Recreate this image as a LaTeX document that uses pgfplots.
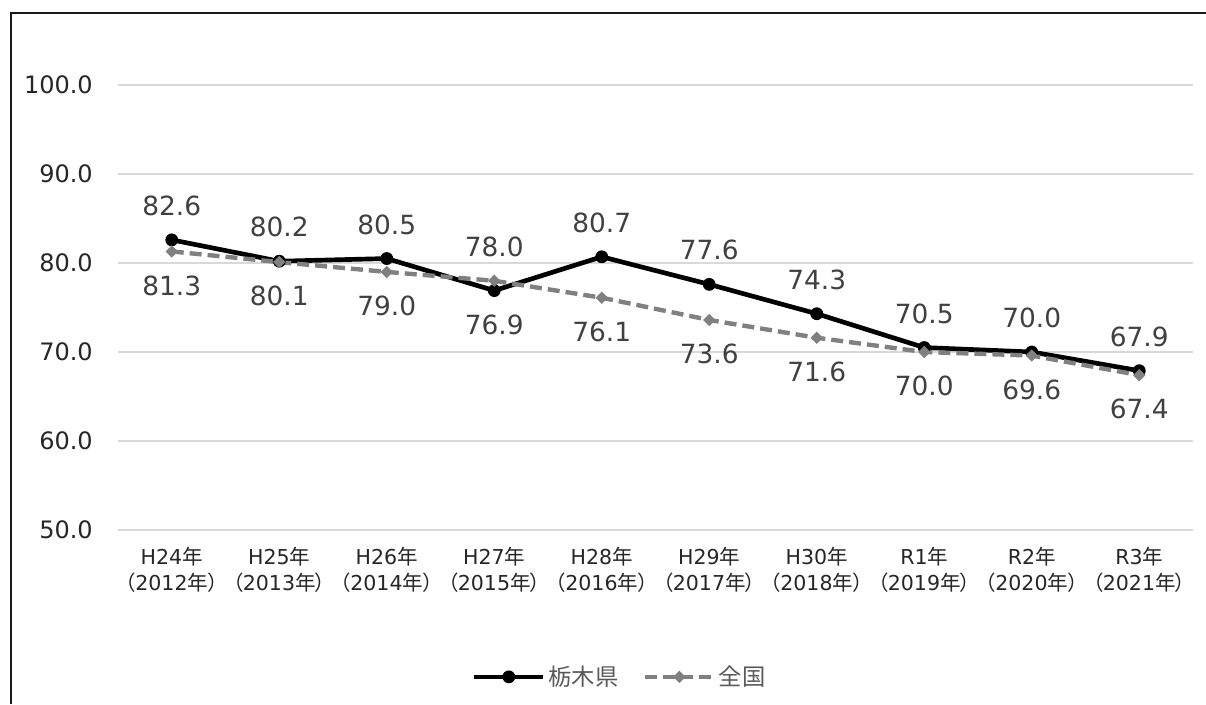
\documentclass[border=0pt]{standalone}
\usepackage{pgfplots}
\pgfplotsset{compat=1.18}
\usepackage{pgfplotstable}
\usepackage{fontspec}
\setmainfont{DejaVu Sans}
\newfontfamily\cjk[RawFeature=+palt]{Noto Sans CJK JP}
\newcommand\nen{{\cjk 年}}
\newcommand\lp{{\cjk （}}
\newcommand\rp{{\cjk ）}}
\definecolor{natgray}{HTML}{808080}
\definecolor{labgray}{HTML}{404040}
\definecolor{gridgray}{HTML}{D9D9D9}
\definecolor{leggray}{HTML}{595959}
\definecolor{tickcol}{HTML}{262626}

\pgfplotstableread{
x y d
0 82.6 1
1 80.2 1
2 80.5 1
3 76.9 -1
4 80.7 1
5 77.6 1
6 74.3 1
7 70.5 1
8 70.0 1
9 67.9 1
}\tochigi
\pgfplotstableread{
x y d
0 81.3 -1
1 80.1 -1
2 79.0 -1
3 78.0 1
4 76.1 -1
5 73.6 -1
6 71.6 -1
7 70.0 -1
8 69.6 -1
9 67.4 -1
}\zenkoku

\begin{document}
\begin{tikzpicture}
\path[use as bounding box] (0pt,0pt) rectangle (904.5pt,528pt);
\draw[line width=1pt, black!90] (8.25pt,0pt) -- (8.25pt,518.25pt) -- (904.5pt,518.25pt);
\begin{axis}[
  at={(88.5pt,130.5pt)}, anchor=south west,
  scale only axis, width=806.25pt, height=333.75pt,
  xmin=-0.5, xmax=9.5, ymin=50, ymax=100,
  axis line style={draw=none},
  major tick length=0pt,
  ymajorgrids, grid style={gridgray, line width=0.8pt},
  ytick={50,60,70,80,90,100},
  xtick={0,1,2,3,4,5,6,7,8,9},
  xticklabels={
    {H24\nen\\\lp 2012\nen\rp},
    {H25\nen\\\lp 2013\nen\rp},
    {H26\nen\\\lp 2014\nen\rp},
    {H27\nen\\\lp 2015\nen\rp},
    {H28\nen\\\lp 2016\nen\rp},
    {H29\nen\\\lp 2017\nen\rp},
    {H30\nen\\\lp 2018\nen\rp},
    {R1\nen\\\lp 2019\nen\rp},
    {R2\nen\\\lp 2020\nen\rp},
    {R3\nen\\\lp 2021\nen\rp}},
  xticklabel style={align=center, anchor=north, inner sep=0pt, yshift=-12.5pt,
    font=\fontsize{15.4}{19.5}\selectfont, text=tickcol},
  yticklabel style={anchor=east, inner sep=0pt, xshift=-18.75pt,
    font=\fontsize{18}{20}\selectfont, text=tickcol},
  /pgf/number format/fixed,
  /pgf/number format/fixed zerofill,
  /pgf/number format/precision=1,
  /pgf/number format/assume math mode=true,
  clip=false,
  legend columns=2,
  legend style={draw=none, fill=none, at={(0.467,-0.33)}, anchor=center,
    font=\fontsize{17.5}{20}\selectfont\cjk, text=leggray,
    /tikz/every even column/.append style={column sep=16pt}},
  legend image code/.code={
    \draw[mark repeat=2,mark phase=2,#1] plot coordinates {(0pt,0pt) (26pt,0pt) (52pt,0pt)};
  },
]
\addplot[black, line width=3.5pt, mark=*, mark size=4.3pt,
  mark options={solid, line width=1pt, fill=black},
  nodes near coords, point meta=y,
  visualization depends on={\thisrow{d}\as\labdir},
  every node near coord/.append style={anchor=center, yshift=\labdir*25.5pt,
    font=\fontsize{19.8}{22}\selectfont, text=labgray}]
  table[x=x,y=y] {\tochigi};
\addlegendentry{栃木県}
\addplot[natgray, line width=3.3pt, dash pattern=on 9pt off 4.5pt,
  mark=square*, mark size=3pt,
  mark options={solid, rotate=45, line width=0.5pt, fill=natgray},
  nodes near coords, point meta=y,
  visualization depends on={\thisrow{d}\as\labdir},
  every node near coord/.append style={anchor=center, yshift=\labdir*25.5pt,
    font=\fontsize{19.8}{22}\selectfont, text=labgray}]
  table[x=x,y=y] {\zenkoku};
\addlegendentry{全国}
\end{axis}
\end{tikzpicture}
\end{document}
